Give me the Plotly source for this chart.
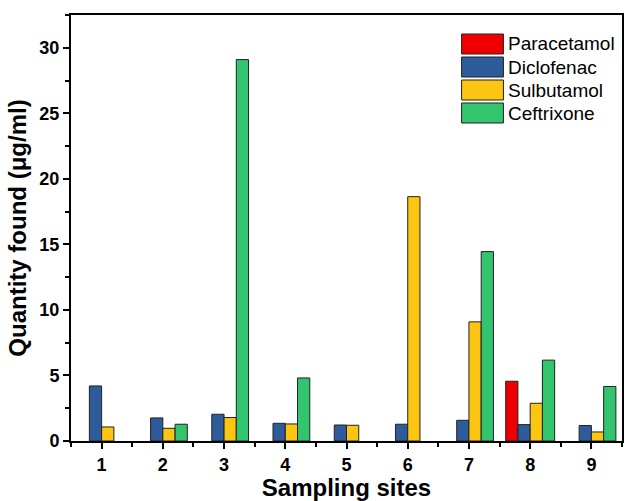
import plotly.graph_objects as go

sites = [1, 2, 3, 4, 5, 6, 7, 8, 9]
series_names = ["Paracetamol", "Diclofenac", "Sulbutamol", "Ceftrixone"]
paracetamol = [None, None, None, None, None, None, None, 4.56, None]
diclofenac = [4.2, 1.76, 2.04, 1.35, 1.22, 1.28, 1.58, 1.25, 1.18]
sulbutamol = [1.07, 0.97, 1.79, 1.3, 1.2, 18.64, 9.09, 2.88, 0.69]
ceftrixone = [None, 1.28, 29.1, 4.81, None, None, 14.45, 6.17, 4.16]
colors = ["#ee0000", "#2e5b9a", "#fcc512", "#33c46e"]
y_ticks = [0, 5, 10, 15, 20, 25, 30]

FONT = "Liberation Sans, Arial, sans-serif"

fig = go.Figure()
for name, vals, col in zip(series_names, [paracetamol, diclofenac, sulbutamol, ceftrixone], colors):
    fig.add_trace(go.Bar(
        x=sites, y=vals, name=name,
        marker=dict(color=col, line=dict(color="#222222", width=1)),
        showlegend=False,
    ))

# custom legend with wide swatches
L0, T0 = 71, 15
PW, PH = 553, 426
def px(x):
    return (x - L0) / PW
def py(y):
    return (T0 + PH - y) / PH

for i, (name, col) in enumerate(zip(series_names, colors)):
    top = 34 + 23 * i
    fig.add_shape(type="rect", xref="paper", yref="paper",
                  x0=px(463), x1=px(505), y0=py(top + 20), y1=py(top),
                  fillcolor=col, line=dict(color="#222222", width=1))
    fig.add_annotation(xref="paper", yref="paper", x=px(508), y=py(top + 10),
                       text=name, showarrow=False, xanchor="left", yanchor="middle",
                       font=dict(family=FONT, size=19, color="black"))

fig.update_layout(
    width=625, height=501,
    margin=dict(l=71, r=1, t=15, b=60),
    plot_bgcolor="white", paper_bgcolor="white",
    barmode="group", bargap=0.2, bargroupgap=0,
    font=dict(family=FONT, color="black"),
    xaxis=dict(
        range=[0.5, 9.5], tickmode="array", tickvals=sites,
        ticktext=[str(s) for s in sites],
        showline=True, linecolor="black", linewidth=2, mirror=True,
        ticks="outside", ticklen=6, tickwidth=2, tickcolor="black",
        minor=dict(tickmode="linear", tick0=0.5, dtick=1, ticks="outside", ticklen=4, tickwidth=1.5, tickcolor="black"),
        showgrid=False, zeroline=False,
        tickfont=dict(family=FONT, size=18, color="black", weight="bold"),
        title=dict(text="<b>Sampling sites</b>", font=dict(family=FONT, size=24, color="black"), standoff=4),
    ),
    yaxis=dict(
        range=[0, 32.5], tickmode="array", tickvals=y_ticks,
        showline=True, linecolor="black", linewidth=2, mirror=True,
        ticks="outside", ticklen=6, tickwidth=2, tickcolor="black",
        minor=dict(tickmode="linear", tick0=2.5, dtick=5, ticks="outside", ticklen=4, tickwidth=1.5, tickcolor="black"),
        showgrid=False, zeroline=False,
        tickfont=dict(family=FONT, size=18, color="black", weight="bold"),
        title=dict(text="<b>Quantity found (μg/ml)</b>", font=dict(family=FONT, size=24, color="black"), standoff=6),
    ),
)

fig.write_html("out.html", config={"displayModeBar": False},
               post_script="document.body.style.margin='0';document.body.style.overflow='hidden';")
